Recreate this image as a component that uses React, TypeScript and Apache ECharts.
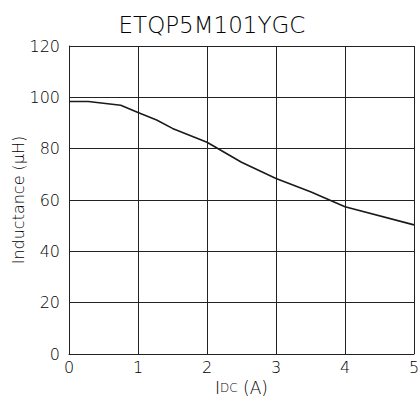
import React, { useEffect, useRef } from "react";
import * as echarts from "echarts";

const title = "ETQP5M101YGC";
const currentA = [0, 0.28, 0.75, 1, 1.27, 1.5, 2, 2.5, 3, 3.5, 4, 5];
const inductanceUH = [98.4, 98.4, 96.9, 94.1, 91.2, 87.9, 82.5, 74.7, 68.4, 63.2, 57.4, 50.3];
const yTicks = [0, 20, 40, 60, 80, 100, 120];
const xTicks = [0, 1, 2, 3, 4, 5];

export default function App() {
  const ref = useRef<HTMLDivElement>(null);
  useEffect(() => {
    if (!ref.current) return;
    const chart = echarts.init(ref.current, undefined, { renderer: "svg" });
    const font = "DejaVu Sans ExtraLight, DejaVu Sans, sans-serif";
    const txt = "#000";
    chart.setOption({
      animation: false,
      backgroundColor: "#fff",
      title: {
        text: title,
        left: 207,
        textAlign: "center",
        top: 8,
        textStyle: { fontFamily: font, fontSize: 23, fontWeight: 200, color: txt },
      },
      grid: { left: 69, right: 4, top: 46, bottom: 49, containLabel: false, outerBoundsMode: "none" },
      xAxis: {
        type: "value",
        min: xTicks[0],
        max: xTicks[xTicks.length - 1],
        interval: 1,
        name: "{a|I}{b|DC} (A)",
        nameLocation: "middle",
        nameGap: 20,
        nameTextStyle: {
          fontFamily: font,
          color: txt,
          fontSize: 17,
          fontWeight: 200,
          rich: {
            a: { fontFamily: font, fontSize: 17, fontWeight: 200, color: txt },
            b: { fontFamily: font, fontSize: 12, fontWeight: 200, color: txt },
          },
        },
        axisLine: { show: true, lineStyle: { color: "#222", width: 1 } },
        axisTick: { show: false },
        axisLabel: { margin: 5, fontFamily: font, fontSize: 16, fontWeight: 200, color: txt },
        splitLine: { show: true, lineStyle: { color: "#222", width: 1 } },
      },
      yAxis: {
        type: "value",
        min: yTicks[0],
        max: yTicks[yTicks.length - 1],
        interval: 20,
        name: "Inductance (µH)",
        nameLocation: "middle",
        nameGap: 43,
        nameMoveOverlap: false,
        nameTextStyle: { fontFamily: font, fontSize: 16, fontWeight: 200, color: txt },
        axisLine: { show: true, lineStyle: { color: "#222", width: 1 } },
        axisTick: { show: false },
        axisLabel: { margin: 9, fontFamily: font, fontSize: 16, fontWeight: 200, color: txt },
        splitLine: { show: true, lineStyle: { color: "#222", width: 1 } },
      },
      series: [
        {
          type: "line",
          data: currentA.map((x, i) => [x, inductanceUH[i]]),
          showSymbol: false,
          lineStyle: { color: "#1a1a1a", width: 1.6 },
        },
      ],
    });
    return () => chart.dispose();
  }, []);
  return (
    <div
      ref={ref}
      style={{ position: "fixed", left: 0, top: 0, width: 418, height: 403 }}
    />
  );
}
